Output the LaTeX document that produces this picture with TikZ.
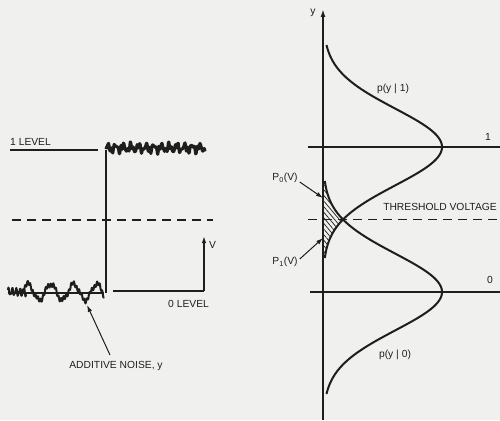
\documentclass[tikz,border=0pt]{standalone}
\usepackage{fontspec}
\setmainfont{Liberation Sans}
\usetikzlibrary{arrows.meta,patterns.meta}
\definecolor{paper}{RGB}{240,240,238}
\definecolor{ink}{RGB}{30,30,30}
\tikzset{
  lbl/.style={inner sep=0pt,font=\fontsize{10.3}{12}\selectfont,text=ink},
  heavy/.style={draw=ink,line width=1.8pt},
  curve/.style={draw=ink,line width=2pt},
  axisline/.style={draw=ink,line width=1.6pt},
  dashline/.style={draw=ink,line width=1.8pt,dash pattern=on 9pt off 6pt},
  pointer/.style={draw=ink,line width=1pt,-{Latex[length=7pt,width=4.5pt]}},
}
\begin{document}
\begin{tikzpicture}[x=1pt,y=-1pt]
\fill[paper] (0,0) rectangle (500,420);
\useasboundingbox (0,0) rectangle (500,420);

% ---------- left: signal ----------
\node[lbl,anchor=base west] (one) at (10,145) {1 LEVEL};
\coordinate (oneA) at (10,150);
\coordinate (oneB) at (98,150);
\draw[heavy] (oneA) -- (oneB);

\coordinate (stepT) at (106,150);
\coordinate (stepB) at (106,293);
\draw[heavy] (stepT) -- (stepB);

% noisy 1 level
\draw[draw=ink,line width=3pt,line join=round]
  plot[domain=0:99,samples=160,smooth]
  ({106+\x},{148-3*sin(\x*47)+2.2*sin(\x*113+30)-1.4*sin(\x*151)});

% noisy 0 level
\coordinate (zA) at (8,293);
\coordinate (zB) at (104,293);
\draw[heavy] (zA) -- (zB);
\draw[draw=ink,line width=2pt,line join=round]
  plot[domain=8:26,samples=40,smooth]
  (\x,{292-3*sin(\x*95)-1.5*sin(\x*180)});
\draw[draw=ink,line width=2pt,line join=round]
  plot[domain=20:104,samples=160,smooth]
  (\x,{292-8*sin((\x-22)*15.652)+2*sin(\x*140)-1.5*sin(\x*41)});

% dashed threshold (left)
\coordinate (dA) at (12,220);
\coordinate (dB) at (213,220);
\draw[dashline] (dA) -- (dB);

% 0 level line and V arrow
\coordinate (zl) at (113,291);
\coordinate (zc) at (204,291);
\coordinate (vt) at (204,236);
\draw[draw=ink,line width=1.5pt] (zl) -- (zc);
\draw[pointer,line width=1.5pt] (zc) -- (vt);
\node[lbl,anchor=west] (vlab) at (209,245) {V};
\node[lbl,anchor=base west] (zero) at (168,307) {0 LEVEL};

% additive noise
\node[lbl] (noise) at (116,366) {ADDITIVE NOISE, y};
\coordinate (noisept) at (87,305);
\draw[pointer] (110,355) -- (noisept);

% ---------- right: densities ----------
\coordinate (ax0) at (323,420);
\coordinate (ax1) at (323,9);
\draw[axisline,-{Latex[length=8pt,width=5pt]}] (ax0) -- (ax1);
\node[lbl] (ylab) at (313,13) {y};

\coordinate (l1a) at (308,147);
\coordinate (l1b) at (500,147);
\draw[axisline] (l1a) -- (l1b);
\node[lbl] (l1) at (488,137) {1};

\coordinate (l0a) at (310,292);
\coordinate (l0b) at (500,292);
\draw[axisline] (l0a) -- (l0b);
\node[lbl] (l0) at (490,280) {0};

\coordinate (tha) at (308,219.5);
\coordinate (thb) at (500,219.5);
\draw[dashline] (tha) -- (thb);
\node[lbl] (thr) at (440,207) {THRESHOLD VOLTAGE};

% hatched overlap
\fill[pattern={Lines[angle=-50,distance=3.6pt,line width=0.7pt]},pattern color=ink]
  (323,185)
  -- plot[domain=185:219.5,samples=30] ({323+119*exp(-((\x-292)^2)/2950)},\x)
  -- plot[domain=219.5:256,samples=30] ({323+119*exp(-((\x-147)^2)/2950)},\x)
  -- (323,256) -- cycle;

% p(y|1)
\draw[curve] plot[domain=45:258,samples=120,smooth]
  ({323+119*exp(-((\x-147)^2)/2950)},\x);
% p(y|0)
\draw[curve] plot[domain=181:394,samples=120,smooth]
  ({323+119*exp(-((\x-292)^2)/2950)},\x);

\node[lbl] (p1lab) at (393,89) {p(y | 1)};
\node[lbl] (p0lab) at (395,355) {p(y | 0)};

\node[lbl] (P0) at (285,178) {P\textsubscript{0}(V)};
\coordinate (P0pt) at (323,198);
\draw[pointer] (P0.east) ++(2,4) -- (P0pt);
\node[lbl] (P1) at (285,262) {P\textsubscript{1}(V)};
\coordinate (P1pt) at (323,238);
\draw[pointer] (P1.east) ++(2,-3) -- (P1pt);
\end{tikzpicture}
\end{document}
